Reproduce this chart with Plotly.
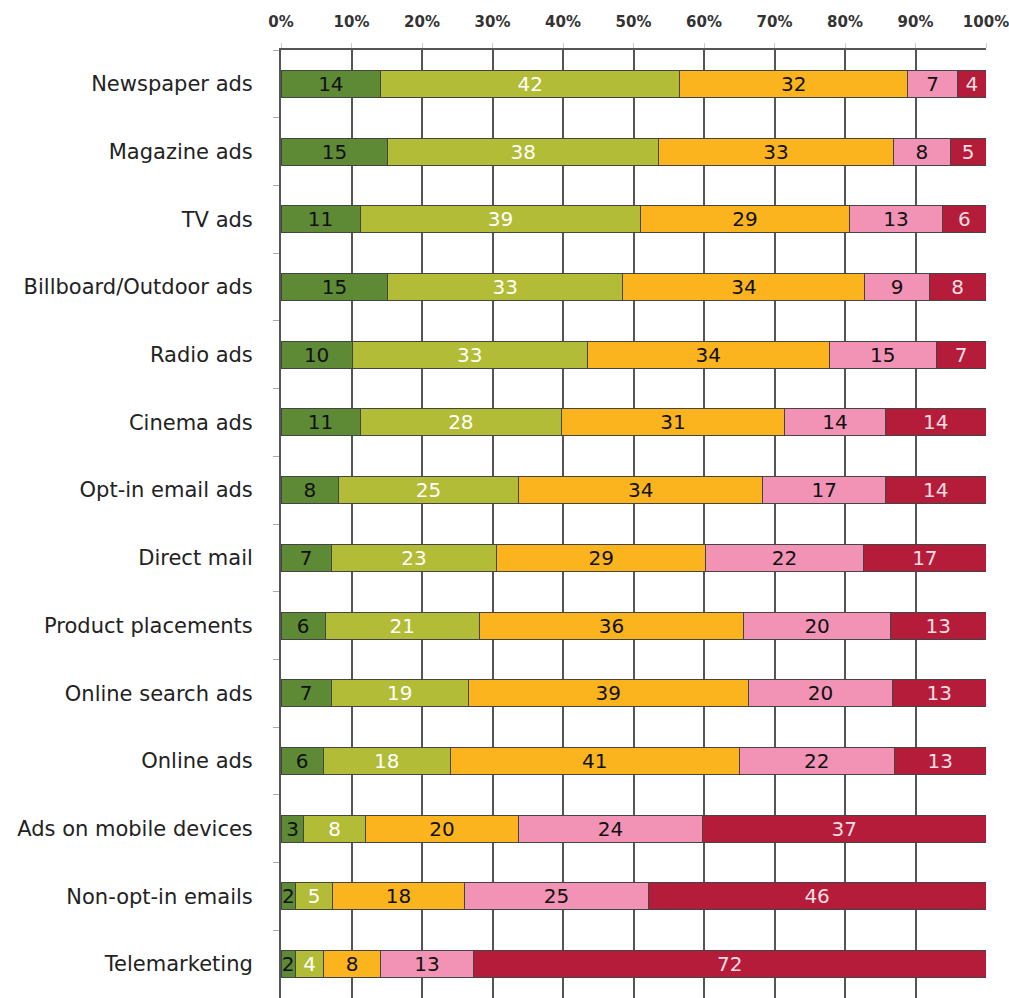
import plotly.graph_objects as go

categories = ["Newspaper ads", "Magazine ads", "TV ads", "Billboard/Outdoor ads", "Radio ads",
              "Cinema ads", "Opt-in email ads", "Direct mail", "Product placements",
              "Online search ads", "Online ads", "Ads on mobile devices", "Non-opt-in emails",
              "Telemarketing"]
s1 = [14, 15, 11, 15, 10, 11, 8, 7, 6, 7, 6, 3, 2, 2]
s2 = [42, 38, 39, 33, 33, 28, 25, 23, 21, 19, 18, 8, 5, 4]
s3 = [32, 33, 29, 34, 34, 31, 34, 29, 36, 39, 41, 20, 18, 8]
s4 = [7, 8, 13, 9, 15, 14, 17, 22, 20, 20, 22, 24, 25, 13]
s5 = [4, 5, 6, 8, 7, 14, 14, 17, 13, 13, 13, 37, 46, 72]
tick_vals = [0, 10, 20, 30, 40, 50, 60, 70, 80, 90, 100]
tick_text = ["0%", "10%", "20%", "30%", "40%", "50%", "60%", "70%", "80%", "90%", "100%"]

series = [s1, s2, s3, s4, s5]
colors = ["#5e8a36", "#b2bc36", "#fbb41e", "#f293b6", "#b41c3a"]
text_colors = ["#111111", "#ffffff", "#111111", "#111111", "#f8dde3"]

fig = go.Figure()
for vals, c, tc in zip(series, colors, text_colors):
    fig.add_trace(go.Bar(
        y=categories, x=vals, orientation="h",
        marker=dict(color=c, line=dict(color="#444444", width=1)),
        text=[str(v) for v in vals], texttemplate="%{text}",
        textposition="inside", insidetextanchor="middle", textangle=0,
        textfont=dict(color=tc, size=20, family="DejaVu Sans"),
        showlegend=False, hoverinfo="skip",
    ))

fig.update_layout(
    barmode="stack", barnorm="percent", bargap=0.6,
    width=1009, height=998,
    margin=dict(l=281, r=23, t=50, b=0),
    plot_bgcolor="white", paper_bgcolor="white",
    font=dict(family="DejaVu Sans", color="#222222"),
    uniformtext=dict(minsize=20, mode="show"),
)
fig.update_xaxes(
    side="top", range=[0, 100], tickvals=tick_vals, ticktext=tick_text,
    showgrid=True, gridcolor="#555555", gridwidth=2,
    showline=True, linecolor="#555555", linewidth=2,
    ticks="outside", ticklen=5, tickcolor="#cccccc", tickwidth=1,
    ticklabelstandoff=10, ticklabeloverflow="allow",
    tickfont=dict(size=15, family="DejaVu Sans", color="#333333", weight="bold"),
    zeroline=False, fixedrange=True,
)
fig.update_yaxes(
    categoryorder="array", categoryarray=categories, autorange="reversed",
    showline=True, linecolor="#555555", linewidth=2,
    ticks="outside", tickson="boundaries", ticklen=6, tickcolor="#aaaaaa", tickwidth=1,
    ticklabelstandoff=22,
    tickfont=dict(size=21, family="DejaVu Sans", color="#222222"),
    showgrid=False, zeroline=False,
)

fig.write_html("out.html")
